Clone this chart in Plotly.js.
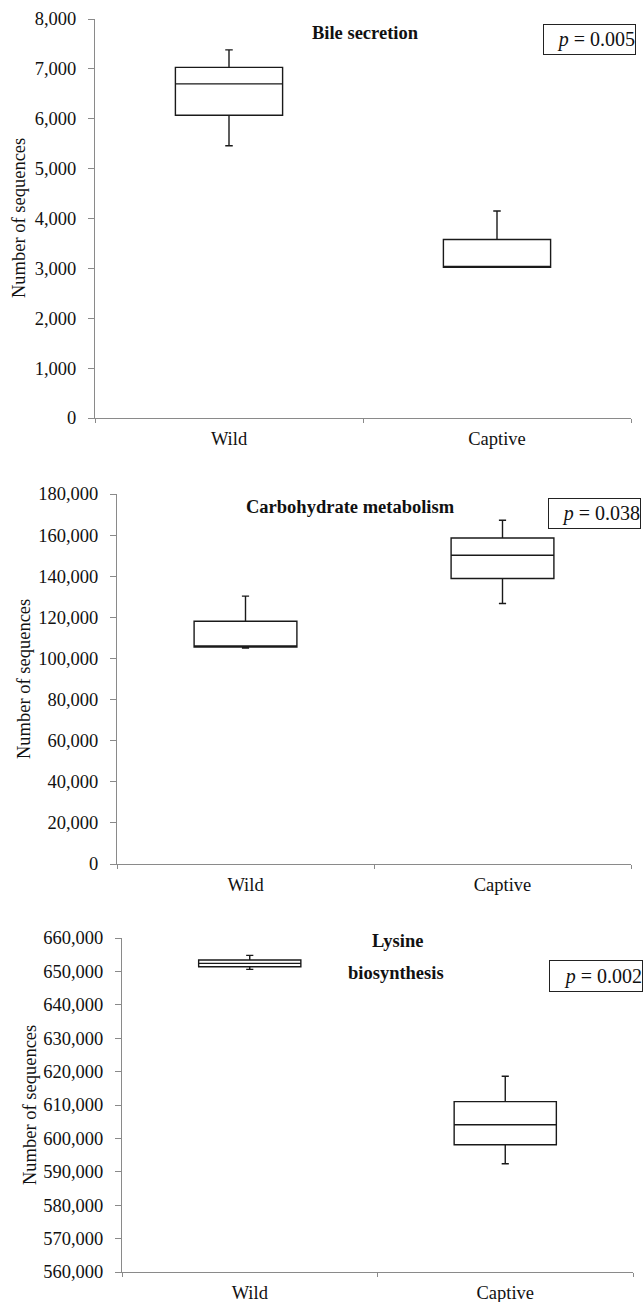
<!DOCTYPE html>
<html>
<head>
<meta charset="utf-8">
<script src="https://cdn.plot.ly/plotly-3.0.1.min.js"></script>
<style>
html,body{margin:0;padding:0;background:#fff;}
#chart{width:644px;height:1302px;}
</style>
</head>
<body>
<div id="chart"></div>
<script>
// ---- data ----
const categories = ['Wild', 'Captive'];

const bileMin    = [5460, 3020];
const bileQ1     = [6070, 3020];
const bileMedian = [6700, 3040];
const bileQ3     = [7030, 3580];
const bileMax    = [7380, 4150];

const carbMin    = [105000, 126700];
const carbQ1     = [105600, 138900];
const carbMedian = [106100, 150200];
const carbQ3     = [118100, 158600];
const carbMax    = [130300, 167200];

const lysMin     = [650600, 592400];
const lysQ1      = [651400, 598100];
const lysMedian  = [652400, 604100];
const lysQ3      = [653400, 611000];
const lysMax     = [654800, 618600];

const panelTitles = ['Bile secretion', 'Carbohydrate metabolism', 'Lysine', 'biosynthesis'];
const pValues = ['0.005', '0.038', '0.002'];
const yTitle = 'Number of sequences';

// ---- layout helpers ----
const W = 644, H = 1302;
const px = v => v / W;
const py = v => 1 - v / H;
const FONT = "'Liberation Serif', 'Times New Roman', serif";
const AXC = '#8a8a8a';

function boxTrace(lo, q1, med, q3, hi, xa, ya) {
  return {
    type: 'box', x: categories, lowerfence: lo, q1: q1, median: med, q3: q3, upperfence: hi,
    xaxis: xa, yaxis: ya, width: 0.4, whiskerwidth: 0.07, boxpoints: false,
    fillcolor: '#ffffff', line: {color: '#1a1a1a', width: 1.4}, hoverinfo: 'skip', showlegend: false
  };
}

const data = [
  boxTrace(bileMin, bileQ1, bileMedian, bileQ3, bileMax, 'x', 'y'),
  boxTrace(carbMin, carbQ1, carbMedian, carbQ3, carbMax, 'x2', 'y2'),
  boxTrace(lysMin, lysQ1, lysMedian, lysQ3, lysMax, 'x3', 'y3')
];

function xAxis(dom, anchor) {
  return {
    domain: dom, anchor: anchor, type: 'category', range: [-0.5, 1.5],
    showline: true, linecolor: AXC, linewidth: 1, showgrid: false, zeroline: false,
    ticks: 'outside', tickson: 'boundaries', ticklen: 4, tickcolor: AXC, tickwidth: 1,
    tickfont: {family: FONT, size: 18.5, color: '#111'}, ticklabelstandoff: 4, fixedrange: true
  };
}
function yAxis(dom, anchor, range, dtick) {
  return {
    domain: dom, anchor: anchor, range: range, dtick: dtick, tick0: 0,
    showline: true, linecolor: AXC, linewidth: 1, showgrid: false, zeroline: false,
    ticks: 'outside', ticklen: 6, tickcolor: AXC, tickwidth: 1, tickformat: ',d',
    tickfont: {family: FONT, size: 18.5, color: '#111'}, ticklabelstandoff: 8, fixedrange: true
  };
}

const annotations = [];
function txt(text, x, y, opts) {
  annotations.push(Object.assign({
    text: text, xref: 'paper', yref: 'paper', x: px(x), y: py(y),
    xanchor: 'center', yanchor: 'middle', showarrow: false,
    font: {family: FONT, size: 18.5, color: '#111'}
  }, opts || {}));
}
function pbox(val, x0, x1, y0, y1) {
  txt('<i>p</i> = ' + val, (x0 + x1) / 2, (y0 + y1) / 2, {
    bordercolor: '#222', borderwidth: 1, borderpad: 0,
    width: x1 - x0 - 2, height: y1 - y0 - 2, align: 'right', bgcolor: '#fff',
    font: {family: FONT, size: 20, color: '#111'}
  });
}

// titles
txt('<b>' + panelTitles[0] + '</b>', 365, 33);
txt('<b>' + panelTitles[1] + '</b>', 350, 507);
txt('<b>' + panelTitles[2] + '</b>', 397, 941);
txt('<b>' + panelTitles[3] + '</b>', 396, 973);
// p-values
pbox(pValues[0], 543, 636, 24, 55);
pbox(pValues[1], 548, 641, 498, 529);
pbox(pValues[2], 549, 643, 960, 992);
// y titles
txt(yTitle, 19, 218, {textangle: -90});
txt(yTitle, 24, 679, {textangle: -90});
txt(yTitle, 30, 1105, {textangle: -90});

const layout = {
  width: W, height: H, margin: {l: 0, r: 0, t: 0, b: 0},
  paper_bgcolor: '#fff', plot_bgcolor: '#fff', showlegend: false,
  font: {family: FONT},
  xaxis:  xAxis([px(95), px(631)], 'y'),
  yaxis:  yAxis([py(418), py(19)], 'x', [0, 8000], 1000),
  xaxis2: xAxis([px(117), px(631)], 'y2'),
  yaxis2: yAxis([py(864), py(494)], 'x2', [0, 180000], 20000),
  xaxis3: xAxis([px(122), px(633)], 'y3'),
  yaxis3: yAxis([py(1272), py(938)], 'x3', [560000, 660000], 10000),
  annotations: annotations
};

Plotly.newPlot('chart', data, layout, {displayModeBar: false, staticPlot: true});
</script>
</body>
</html>
